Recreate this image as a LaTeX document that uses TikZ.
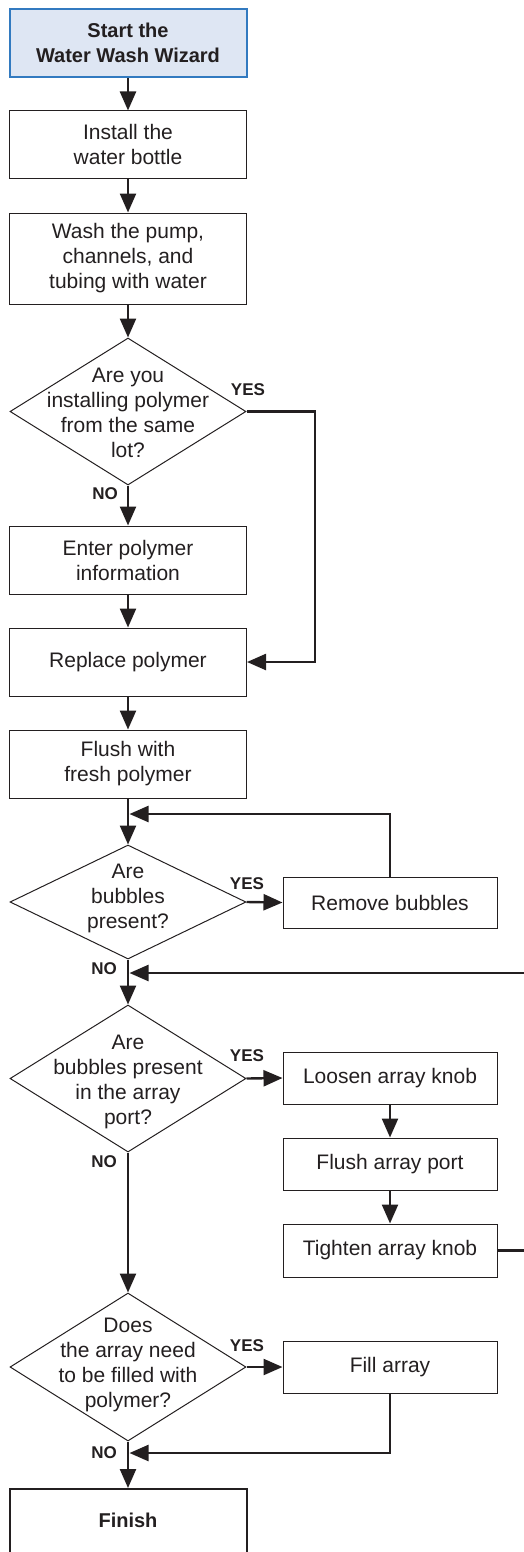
\documentclass[tikz,border=0pt]{standalone}
\usepackage{fontspec}
\setmainfont{Liberation Sans}
\usetikzlibrary{shapes.geometric,arrows.meta}
\definecolor{ink}{RGB}{35,31,32}
\definecolor{startfill}{RGB}{222,230,243}
\definecolor{startline}{RGB}{50,122,192}
\begin{document}
\begin{tikzpicture}[x=1pt,y=-1pt,
  box/.style={draw=ink, line width=1pt, minimum width=237pt, inner sep=0pt, align=center, text=ink, font=\fontsize{21}{25}\selectfont},
  rbox/.style={box, minimum width=214pt},
  dec/.style={draw=ink, line width=1pt, shape=diamond, inner sep=0pt, minimum width=236pt},
  dtext/.style={align=center, text=ink, font=\fontsize{21}{25}\selectfont, inner sep=0pt},
  lab/.style={text=ink, font=\fontsize{17}{20}\selectfont\bfseries, inner sep=0pt},
  conn/.style={draw=ink, line width=2.4pt, -{Triangle[length=19pt,width=16pt]}},
  wire/.style={draw=ink, line width=2.4pt}]
\useasboundingbox (0,0) rectangle (524,1552);
\clip (0,0) rectangle (524,1552);

% main column
\node[box, draw=startline, fill=startfill, line width=2pt, minimum height=68pt, font=\fontsize{20}{25}\selectfont\bfseries] (start) at (128,43) {Start the\\Water Wash Wizard};
\node[box, minimum height=67pt] (inst) at (128,144.5) {Install the\\water bottle};
\node[box, minimum height=91pt] (wash) at (128,258.5) {Wash the pump,\\channels, and\\tubing with water};
\node[dec, minimum height=147pt] (d1) at (128,411.5) {};
\node[dtext] (d1t) at (128,413) {Are you\\installing polymer\\from the same\\lot?};
\node[box, minimum height=68pt] (enter) at (128,560) {Enter polymer\\information};
\node[box, minimum height=68pt] (rep) at (128,662) {Replace polymer};
\node[box, minimum height=68pt] (flush) at (128,764) {Flush with\\fresh polymer};
\node[dec, minimum height=114pt] (d2) at (128,902) {};
\node[dtext] (d2t) at (128,898) {Are\\bubbles\\present?};
\node[dec, minimum height=147pt] (d3) at (128,1078.5) {};
\node[dtext] (d3t) at (128,1082) {Are\\bubbles present\\in the array\\port?};
\node[dec, minimum height=148pt] (d4) at (128,1367) {};
\node[dtext] (d4t) at (128,1365) {Does\\the array need\\to be filled with\\polymer?};
\node[draw=ink, line width=2pt, minimum width=237pt, minimum height=140pt, anchor=north, inner sep=0pt] (fin) at (128,1488) {};
\node[dtext, font=\fontsize{20}{25}\selectfont\bfseries] (fint) at (128,1520) {Finish};

% right column
\node[rbox, minimum height=51pt] (rem) at (390,902.5) {Remove bubbles};
\node[rbox, minimum height=52pt] (loos) at (390,1078) {Loosen array knob};
\node[rbox, minimum height=52pt] (fport) at (390,1164) {Flush array port};
\node[rbox, minimum height=53pt] (tight) at (390,1250.5) {Tighten array knob};
\node[rbox, minimum height=52pt] (fill) at (390,1367) {Fill array};

% labels
\node[lab] (y1) at (248,390) {YES};
\node[lab] (n1) at (105,494) {NO};
\node[lab] (y2) at (247,884) {YES};
\node[lab] (n2) at (104,969) {NO};
\node[lab] (y3) at (247,1056) {YES};
\node[lab] (n3) at (104,1162) {NO};
\node[lab] (y4) at (247,1346) {YES};
\node[lab] (n4) at (104,1453) {NO};

% coordinates
\coordinate (c1) at (315,411.5);
\coordinate (m1) at (129.5,814);
\coordinate (m2) at (129.5,973);
\coordinate (m3) at (129.5,1453);
\coordinate (r1) at (532,1250.5);
\coordinate (r2) at (532,973);

% main arrows
\draw[conn] (start) -- (inst);
\draw[conn] (inst) -- (wash);
\draw[conn] (wash) -- (d1.north);
\draw[conn] (d1.south) -- (enter);
\draw[conn] (enter) -- (rep);
\draw[conn] (rep) -- (flush);
\draw[conn] (flush) -- (d2.north);
\draw[conn] (d2.south) -- (d3.north);
\draw[conn] (d3.south) -- (d4.north);
\draw[conn] (d4.south) -- (fin.north);

% yes branches
\draw[conn] (d1.east) -- (c1) |- (rep.east);
\draw[conn] (d2.east) -- (rem.west);
\draw[conn] (d3.east) -- (loos.west);
\draw[conn] (d4.east) -- (fill.west);
\draw[conn] (loos) -- (fport);
\draw[conn] (fport) -- (tight);

% returns
\draw[conn] (rem.north) |- (m1);
\draw[conn] (tight.east) -- (r1) -- (r2) -- (m2);
\draw[conn] (fill.south) |- (m3);
\end{tikzpicture}
\end{document}
